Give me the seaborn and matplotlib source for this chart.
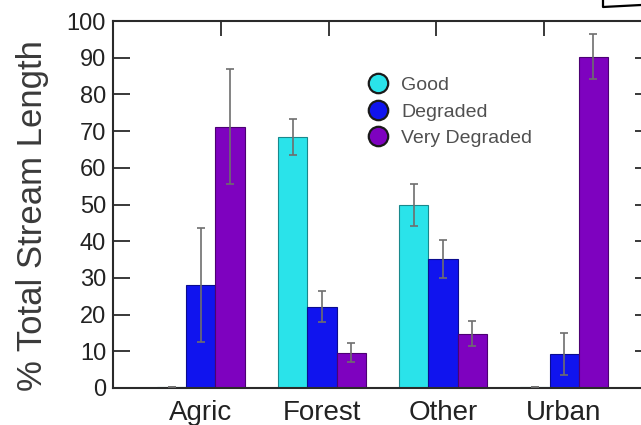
import matplotlib

matplotlib.use("Agg")
import matplotlib.pyplot as plt
import numpy as np
import pandas as pd
import seaborn as sns
from matplotlib.colors import to_rgb
from matplotlib.lines import Line2D

categories = ["Agric", "Forest", "Other", "Urban"]
conditions = ["Good", "Degraded", "Very Degraded"]

good = [0.3, 68.3, 49.9, 0.2]
degraded = [28.1, 22.2, 35.1, 9.3]
very_degraded = [71.2, 9.6, 14.8, 90.3]

good_err = [0.0, 4.9, 5.7, 0.0]
degraded_err = [15.6, 4.3, 5.2, 5.8]
very_degraded_err = [15.7, 2.6, 3.4, 6.2]

y_ticks = [0, 10, 20, 30, 40, 50, 60, 70, 80, 90, 100]

COLORS = ["#2AE3EA", "#1014EE", "#7E02BF"]
SPINE = "#2a2a2a"

df = pd.DataFrame(
    {
        "landuse": categories * 3,
        "condition": np.repeat(conditions, len(categories)),
        "pct": good + degraded + very_degraded,
    }
)
errors = [good_err, degraded_err, very_degraded_err]

sns.set_style("ticks")
plt.rcParams["font.family"] = ["Liberation Sans", "DejaVu Sans"]

fig = plt.figure(figsize=(6.41, 4.25), dpi=100)
ax = fig.add_axes([113 / 641, 37 / 425, 539 / 641, 367 / 425])

sns.barplot(
    data=df,
    x="landuse",
    y="pct",
    hue="condition",
    order=categories,
    hue_order=conditions,
    palette=COLORS,
    saturation=1,
    width=0.72,
    errorbar=None,
    legend=False,
    ax=ax,
)

# darker outline per bar + error bars at the bar centres
for container, err in zip(ax.containers, errors):
    xs, ys = [], []
    for patch in container.patches:
        r, g, b = to_rgb(patch.get_facecolor())
        patch.set_edgecolor((r * 0.6, g * 0.6, b * 0.6))
        patch.set_linewidth(0.8)
        xs.append(patch.get_x() + patch.get_width() / 2)
        ys.append(patch.get_height())
    ax.errorbar(
        xs,
        ys,
        yerr=err,
        fmt="none",
        ecolor="#6e6e6e",
        elinewidth=1.2,
        capsize=3,
        capthick=1.2,
        zorder=5,
    )

ax.set_xlim(-0.727, 3.727)
ax.set_ylim(0, 100)
ax.set_yticks(y_ticks)
ax.set_xlabel("")
ax.set_ylabel("% Total Stream Length", fontsize=25, color="#3a3a3a")
ax.yaxis.set_label_coords(-0.118, 0.471)

ax.tick_params(axis="y", direction="in", length=12, width=1.3, color=SPINE,
               labelsize=17, labelcolor="#222222", pad=5, right=True)
ax.tick_params(axis="x", length=0, labelsize=20, labelcolor="#222222", pad=9)

for side in ["left", "bottom", "top", "right"]:
    ax.spines[side].set_visible(True)
    ax.spines[side].set_color(SPINE)
    ax.spines[side].set_linewidth(1.5)

# inward ticks along the top edge
top = ax.twiny()
top.set_xlim(0, 1)
top.set_xticks([0.2, 0.4, 0.6, 0.8])
top.tick_params(axis="x", direction="in", length=11, width=1.3, color=SPINE,
                labeltop=False, top=True, bottom=False, labelbottom=False)
for s in top.spines.values():
    s.set_visible(False)

handles = [
    Line2D([], [], marker="o", linestyle="", markersize=14,
           markerfacecolor=c, markeredgecolor="#1a1a1a", markeredgewidth=1.6)
    for c in COLORS
]
ax.legend(
    handles,
    conditions,
    loc="upper left",
    bbox_to_anchor=(0.455, 0.875),
    frameon=False,
    fontsize=14,
    labelcolor="#505050",
    handlelength=1.0,
    handletextpad=0.7,
    labelspacing=0.45,
    borderpad=0,
)

# scribbled arrow stroke at the top-right corner
fig.add_artist(Line2D([603 / 641, 603 / 641, 1.0], [1.0, 1 - 7 / 425, 1 - 5 / 425],
                      transform=fig.transFigure, color="black", lw=1.6))

fig.savefig("out.png", dpi=100, facecolor="white")
